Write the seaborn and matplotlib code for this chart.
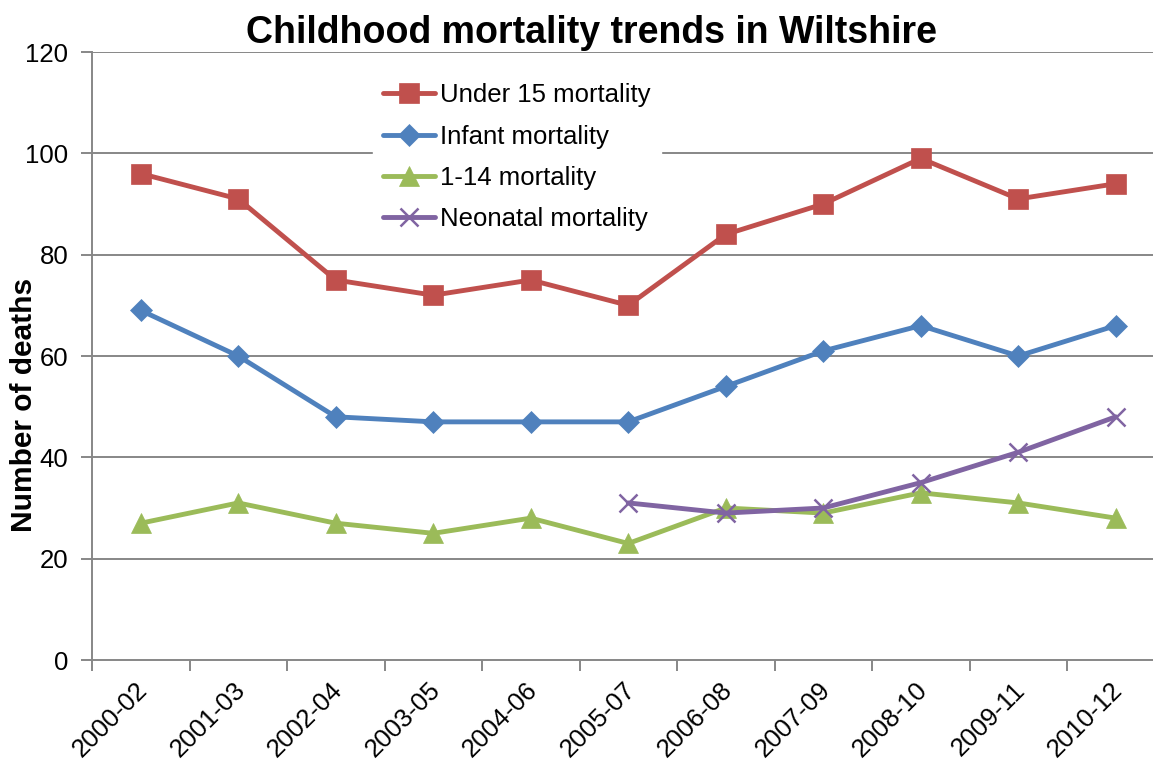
import numpy as np
import pandas as pd
import matplotlib
matplotlib.use("Agg")
import matplotlib.pyplot as plt
import matplotlib.transforms as mtransforms
from matplotlib.ticker import FixedLocator, MultipleLocator
import seaborn as sns

periods = ["2000-02", "2001-03", "2002-04", "2003-05", "2004-06", "2005-07",
           "2006-08", "2007-09", "2008-10", "2009-11", "2010-12"]
under15 = [96, 91, 75, 72, 75, 70, 84, 90, 99, 91, 94]
infant = [69, 60, 48, 47, 47, 47, 54, 61, 66, 60, 66]
age_1_14 = [27, 31, 27, 25, 28, 23, 30, 29, 33, 31, 28]
neonatal = [np.nan, np.nan, np.nan, np.nan, np.nan, 31, 29, 30, 35, 41, 48]

series = [
    ("Under 15 mortality", under15, "#C0504D", "s", 14),
    ("Infant mortality", infant, "#4F81BD", "D", 11),
    ("1-14 mortality", age_1_14, "#9BBB59", "^", 14),
    ("Neonatal mortality", neonatal, "#8064A2", "x", 13),
]

sns.set_theme(style="white")
plt.rcParams["font.family"] = ["Liberation Sans", "DejaVu Sans"]
plt.rcParams["text.color"] = "black"
plt.rcParams["axes.labelcolor"] = "black"
plt.rcParams["xtick.color"] = "black"
plt.rcParams["ytick.color"] = "black"

fig = plt.figure(figsize=(11.53, 7.60), dpi=100)
ax = fig.add_axes([92 / 1153, 1 - 660 / 760, 1072.5 / 1153, 608 / 760])

x = np.arange(len(periods))
for name, vals, color, marker, ms in series:
    df = pd.DataFrame({"pos": x, "value": vals}).dropna()
    sns.lineplot(data=df, x="pos", y="value", ax=ax, color=color, linewidth=3.5,
                 marker=marker, markersize=ms, markeredgecolor=color,
                 markeredgewidth=1.8 if marker == "x" else 0.5, label=name)

grid_c = "#878787"
ax.set_xlim(-0.5, len(periods) - 0.5)
ax.set_ylim(0, 120)
ax.yaxis.set_major_locator(MultipleLocator(20))
for yv in range(20, 121, 20):
    ax.axhline(yv, color=grid_c, linewidth=1.4, zorder=0)

ax.set_xticks(x)
ax.set_xticklabels(periods, rotation=45, ha="right", va="center",
                   rotation_mode="anchor", fontsize=18.5)
ax.xaxis.set_minor_locator(FixedLocator(np.arange(-0.5, len(periods), 1.0)))
ax.tick_params(axis="x", which="major", length=0, pad=19)
ax.tick_params(axis="x", which="minor", length=8, width=1.4, color=grid_c,
               direction="out", bottom=True)
ax.tick_params(axis="y", which="major", length=8, width=1.4, color=grid_c,
               labelcolor="black", direction="out", left=True,
               labelsize=18.5, pad=9)
offset = mtransforms.ScaledTranslation(3 / 100, 0, fig.dpi_scale_trans)
for lbl in ax.get_xticklabels():
    lbl.set_transform(lbl.get_transform() + offset)

for side in ("top", "right"):
    ax.spines[side].set_visible(False)
for side in ("left", "bottom"):
    ax.spines[side].set_color(grid_c)
    ax.spines[side].set_linewidth(1.4)

ax.set_xlabel("")
ax.set_ylabel("Number of deaths", fontsize=21.5, fontweight="bold",
              color="black")
ax.yaxis.set_label_coords(-0.05, 0.419)

fig.text(592 / 1153, 1 - 33 / 760, "Childhood mortality trends in Wiltshire",
         ha="center", va="center", fontsize=27, fontweight="bold",
         color="black")

leg = ax.legend(loc="upper left", bbox_to_anchor=(0.25, 0.987), frameon=True,
                fontsize=18.5, handlelength=2.0, handletextpad=0.2,
                labelspacing=0.68, borderpad=0.4, fancybox=False)
leg.get_frame().set_facecolor("white")
leg.get_frame().set_edgecolor("white")
leg.get_frame().set_alpha(1)
for t in leg.get_texts():
    t.set_color("black")

fig.savefig("out.png", dpi=100, facecolor="white")
